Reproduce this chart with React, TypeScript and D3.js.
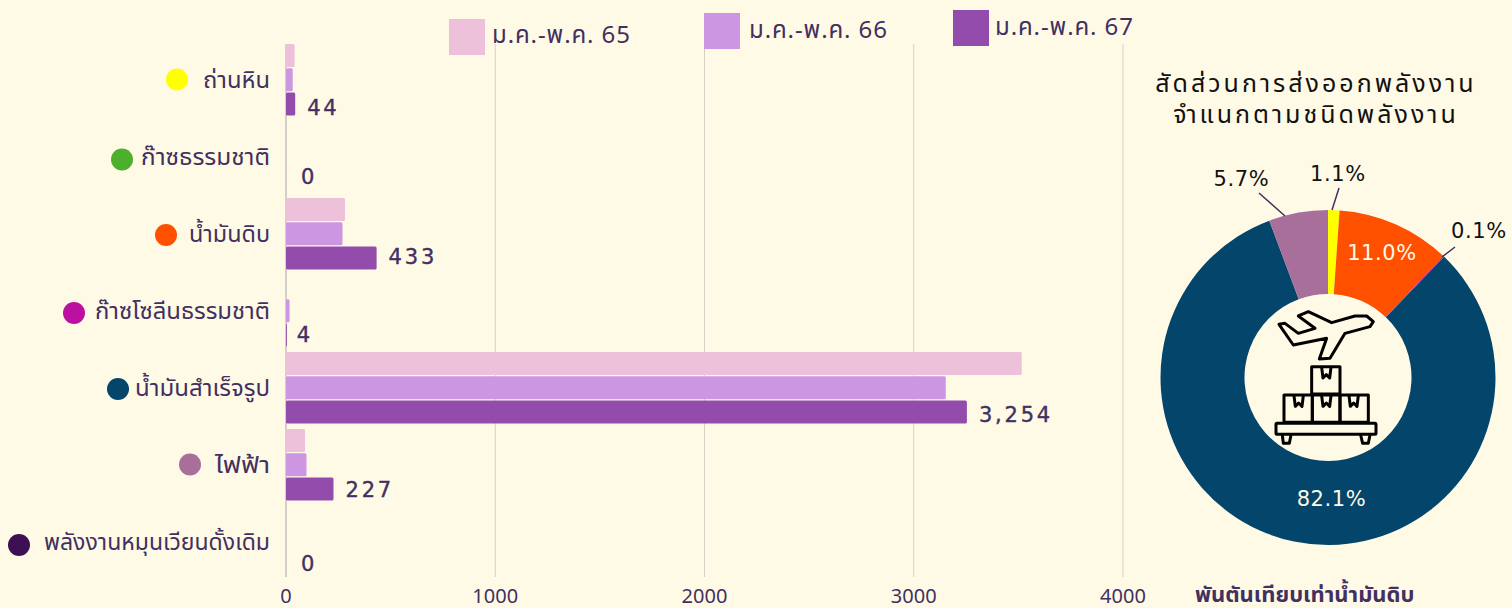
import React from "react";
import * as d3 from "d3";

const categories = ["ถ่านหิน", "ก๊าซธรรมชาติ", "น้ำมันดิบ", "ก๊าซโซลีนธรรมชาติ", "น้ำมันสำเร็จรูป", "ไฟฟ้า", "พลังงานหมุนเวียนดั้งเดิม"];
const dotColors = ["#ffff00", "#4cb02c", "#ff5000", "#bc10a0", "#03456b", "#a76f99", "#3c1053"];
const periods = ["ม.ค.-พ.ค. 65", "ม.ค.-พ.ค. 66", "ม.ค.-พ.ค. 67"];
const periodColors = ["#eec1da", "#cc96e3", "#944cac"];
const values65 = [41, 0, 282, 0, 3516, 91, 0];
const values66 = [32, 0, 270, 17, 3153, 98, 0];
const values67 = [44, 0, 433, 4, 3254, 227, 0];
const valueLabels = ["44", "0", "433", "4", "3,254", "227", "0"];
const xTicks = [0, 1000, 2000, 3000, 4000];
const shares = [1.1, 0, 11.0, 0.1, 82.1, 5.7, 0];
const shareLabels = ["1.1%", "", "11.0%", "0.1%", "82.1%", "5.7%", ""];
const FONT = "'Noto Sans', 'Noto Sans Thai', Inter, sans-serif";
const DIGITS = "'DejaVu Sans', 'Noto Sans', sans-serif";
const INK = "#42305f";

// layout of the hand-placed annotations
const dotX = [177, 122, 166, 74, 118, 190, 19];
const dotDy = [35.5, 38.5, 37, 38, 37, 35.5, 39];
const labelWidth = [67, 129, 81, 175, 135, 55, 226];
const valueDy = [71, 63, 66, 66.5, 70, 68, 65];
const valueDx = [12, 15, 12, 10, 12, 12, 15];
const legendPos = [[449, 19, 492, 42.5], [704, 13, 749, 38], [953, 10, 995, 35]];
const labelPos: Record<string, [number, number, string]> = {
  "1.1%": [1338, 181, "#111"],
  "11.0%": [1382, 260, "#fffae6"],
  "0.1%": [1479, 238, "#111"],
  "82.1%": [1331.5, 506, "#fffae6"],
  "5.7%": [1241.5, 186, "#111"],
};

export default function App() {
  const x = d3.scaleLinear().domain([0, 4000]).range([286, 1123]);
  const y = d3.scaleBand().domain(categories).range([44, 583]).paddingInner(0).paddingOuter(0);
  const series = [values65, values66, values67];
  const pie = d3.pie<number>().sort(null).value(d => d)(shares);
  const arc = d3.arc<d3.PieArcDatum<number>>().innerRadius(83.5).outerRadius(167.5);
  return (
    <svg width={1512} height={608} style={{ position: "absolute", left: 0, top: 0, background: "#fffae6", fontFamily: FONT }}>
      <rect width={1512} height={608} fill="#fffae6" />
      {xTicks.slice(1).map(t => <line key={t} x1={x(t)} x2={x(t)} y1={44} y2={577} stroke="#d6d0c4" strokeWidth={1} />)}
      <line x1={286} x2={286} y1={44} y2={577} stroke="#aaa4a8" strokeWidth={1} />
      {xTicks.map(t => <text key={t} x={x(t)} y={603} textAnchor="middle" fontSize={20} fill={INK}>{t}</text>)}
      {categories.map((c, i) => {
        const top = y(c)!;
        return (
          <g key={c}>
            {series.map((s, k) => s[i] > 0 && (
              <rect key={k} x={x(0)} y={top + k * 24.3} width={x(s[i]) - x(0)} height={23} rx={1.5} fill={periodColors[k]} />
            ))}
            <text x={270} y={top + 44} textAnchor="end" fontSize={23} textLength={labelWidth[i]} lengthAdjust="spacingAndGlyphs" fill={INK}>{c}</text>
            <circle cx={dotX[i]} cy={top + dotDy[i]} r={11} fill={dotColors[i]} />
            <text x={x(values67[i]) + valueDx[i]} y={top + valueDy[i]} fontSize={21} letterSpacing={2.8} fontFamily={DIGITS} fill={INK} stroke={INK} strokeWidth={0.4}>{valueLabels[i]}</text>
          </g>
        );
      })}
      {periods.map((p, i) => (
        <g key={p}>
          <rect x={legendPos[i][0]} y={legendPos[i][1]} width={36} height={36} fill={periodColors[i]} />
          <text x={legendPos[i][2]} y={legendPos[i][3]} fontSize={24} letterSpacing={0.9} fill={INK}>{p}</text>
        </g>
      ))}
      <text x={1316} y={92} textAnchor="middle" fontSize={25} letterSpacing={3} fill="#111">สัดส่วนการส่งออกพลังงาน</text>
      <text x={1316} y={123} textAnchor="middle" fontSize={25} letterSpacing={3} fill="#111">จำแนกตามชนิดพลังงาน</text>
      <g transform="translate(1328,377.5)">
        {pie.map((d, i) => <path key={i} d={arc(d) ?? ""} fill={dotColors[i]} />)}
      </g>
      <path d="M1259 193L1285 216M1339 188L1332 210M1455 247L1442 257" stroke={INK} strokeWidth={1.5} fill="none" />
      {shareLabels.filter(Boolean).map(l => (
        <text key={l} x={labelPos[l][0]} y={labelPos[l][1]} textAnchor="middle" fontSize={21} letterSpacing={0.6} fontFamily={DIGITS} fill={labelPos[l][2]}>{l}</text>
      ))}
      <g transform="translate(1230,290) scale(0.3333)" fill="none" stroke="#000" strokeWidth={9} strokeLinejoin="round">
        <path d="M147 103L165 100L205 130L255 115L205 78L235 65L305 98L375 78L410 78L430 95L420 110L345 130L300 205L268 207L290 145L190 165Z" />
        <rect x={245} y={230} width={85} height={82} />
        <rect x={162} y={315} width={85} height={82} />
        <rect x={247} y={315} width={83} height={82} />
        <rect x={330} y={315} width={85} height={82} />
        {[[275, 232], [192, 317], [275, 317], [357, 317]].map(([a, b]) => (
          <path key={a + "-" + b} d={`M${a} ${b}L${a + 4} ${b + 32}L${a + 14} ${b + 22}L${a + 24} ${b + 32}L${a + 28} ${b}`} />
        ))}
        <rect x={138} y={400} width={300} height={33} rx={3} />
        <path d="M157 435L160 460L178 460L183 435M392 435L398 460L415 460L420 435" />
      </g>
      <text x={1195} y={601.5} fontSize={22} fontWeight={700} fill={INK}>พันตันเทียบเท่าน้ำมันดิบ</text>
    </svg>
  );
}
